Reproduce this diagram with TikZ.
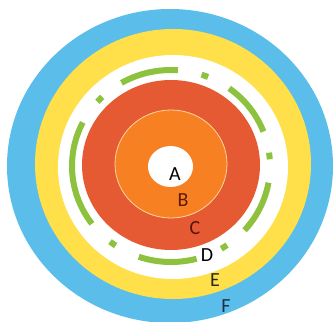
\documentclass[tikz,border=0pt]{standalone}
\usetikzlibrary{calc}
\usepackage{fontspec}
\setmainfont{Carlito}
\definecolor{ringblue}{RGB}{91,190,234}
\definecolor{ringyellow}{RGB}{255,224,75}
\definecolor{ringred}{RGB}{229,90,50}
\definecolor{ringorange}{RGB}{247,128,35}
\definecolor{ringgreen}{RGB}{141,193,62}
\definecolor{ringcream}{RGB}{250,215,160}
\definecolor{labB}{RGB}{95,25,8}
\definecolor{labC}{RGB}{90,18,12}
\definecolor{labE}{RGB}{45,40,25}
\definecolor{labF}{RGB}{30,45,80}
\begin{document}
\begin{tikzpicture}[x=1pt,y=1pt,
  lab/.style={font=\fontsize{20}{20}\selectfont, inner sep=0pt},
  greenarc/.style={draw=ringgreen, line width=6pt, line cap=butt}]
\useasboundingbox (0,0) rectangle (333,322);
\fill[white] (0,0) rectangle (333,322);
\fill[ringblue] (170,156) ellipse [x radius=163, y radius=157];
\fill[ringyellow] (173,158) ellipse [x radius=138, y radius=135];
\fill[white] (173,155) ellipse [x radius=115, y radius=112];
\fill[ringred] (171,157) ellipse [x radius=89, y radius=85];
\filldraw[fill=ringorange, draw=ringcream, line width=0.8pt] (171,158) ellipse [x radius=56, y radius=54];
\fill[white] (170.5,155.5) ellipse [x radius=22.5, y radius=20.5];
\coordinate (ctr) at (171,156);
\foreach \a/\b in {86/120, 68/72, 21/54, 4/8, -42/-10, -59.5/-55.5, -109/-75, -128/-124, 153/217, 134/138}{
  \draw[greenarc] ($(ctr)+(\a:99 and 96)$) arc [start angle=\a, end angle=\b, x radius=99, y radius=96];
}
\node[lab, text=black] (A) at (175,148) {A};
\node[lab, text=labB] (B) at (183,122) {B};
\node[lab, text=labC] (C) at (195,94) {C};
\node[lab, text=black] (D) at (207,67) {D};
\node[lab, text=labE] (E) at (215,42) {E};
\node[lab, text=labF] (F) at (226,16) {F};
\end{tikzpicture}
\end{document}
